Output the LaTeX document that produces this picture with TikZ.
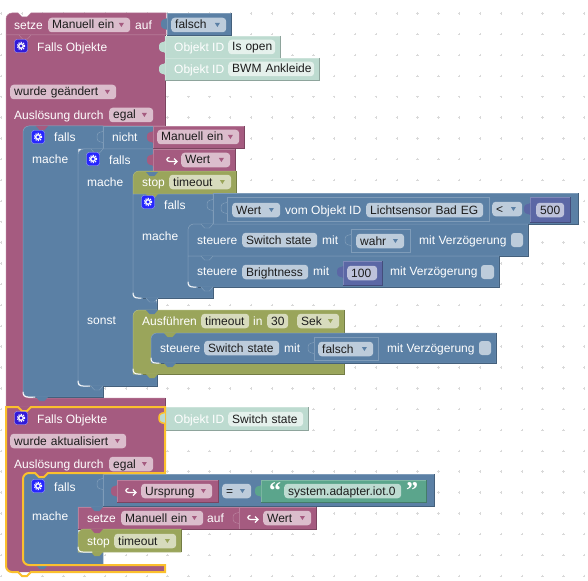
\documentclass[tikz,border=0pt]{standalone}
\usepackage{fontspec}
\setmainfont{Liberation Sans}
\newfontfamily\quotefont{Liberation Serif}
\definecolor{blockpink}{HTML}{A55B80}
\definecolor{blockblue}{HTML}{5B80A5}
\definecolor{blockolive}{HTML}{9AA55B}
\definecolor{blockgreen}{HTML}{5BA58C}
\definecolor{blocknum}{HTML}{5B67A5}
\definecolor{blockmint}{HTML}{BDDBD0}
\definecolor{selyellow}{HTML}{FBC02D}
\definecolor{fieldtext}{HTML}{1C1C1C}
\tikzset{
  blk/.style={fill=#1,draw=#1!78!white,line width=.5pt},
  edge/.style={draw=#1!75!black,line width=.7pt},
  rc/.style={rounded corners=6pt},
  lbl/.style={anchor=mid west,inner sep=0pt,yshift=-1.5pt,text=white,font=\fontsize{12}{14}\selectfont},
  fld/.style={anchor=west,rounded corners=3.5pt,inner xsep=4pt,inner ysep=1.75pt,text height=9.5pt,
    text depth=1.5pt,text=fieldtext,align=left,font=\fontsize{12}{14}\selectfont},
  jack/.pic={\path[pic actions] (0,1) .. controls (0,3) and (-6,0) .. (-6,7)
    .. controls (-6,14) and (0,11) .. (0,13);},
  notch/.pic={\path[pic actions] (13,0) -- (16.5,4) -- (21.5,4) -- (25,0);},
  cog/.pic={\path[pic actions,rounded corners=2.5pt] (-6.5,-6.5) rectangle (6.5,6.5);
    \draw[white,line width=1.3pt] (0,0) circle (2.3pt);
    \draw[white,line width=1.1pt,dash pattern=on 1.2pt off 1.2pt] (0,0) circle (3.7pt);},
  hook/.pic={\draw[white,line width=1.2pt] (-2.5,-2.5) .. controls (-6,-2.5) and (-6,1.5) .. (-2.5,1.5) -- (5,1.5);
    \draw[white,line width=1.2pt] (2,-1.5) -- (5,1.5) -- (2,4.5);}
}
% plain rectangular block, dark edge on the right and underneath
\newcommand{\rblk}[5]{\draw[blk=#5] (#1,#2) rectangle (#3,#4);
  \draw[edge=#5] (#3,#2) -- (#3,#4) -- (#1,#4);}
\newcommand{\lab}[4]{\node[lbl] (#1) at (#2,#3) {#4};}
% dropdown field: name, x1, x2, y, colour, text
\newcommand{\dd}[6]{\pgfmathsetmacro{\fw}{#3-#2-8}
  \node[fld,fill=#5!40!white,text width=\fw pt] (#1) at (#2,#4) {\mbox{#6}};
  \fill[#5] ([shift={(-11.5,-2)}]#1.east) -- ++(5,0) -- ++(-2.5,4) -- cycle;}
% field without the dropdown
\newcommand{\fd}[6]{\pgfmathsetmacro{\fw}{#3-#2-8}
  \node[fld,fill=#5,text width=\fw pt] (#1) at (#2,#4) {\mbox{#6}};}
\begin{document}
\begin{tikzpicture}[x=1pt,y=-1pt]
\useasboundingbox (0,0) rectangle (588,580);
\fill[white] (0,0) rectangle (588,580);
% workspace grid
\foreach \i in {0,...,28} \foreach \j in {0,...,27}
  \draw[gray!30,line width=.5pt] ({1+20.83*\i-1.2},{13.4+20.83*\j}) -- ++(2.4,0) ({1+20.83*\i},{13.4+20.83*\j-1.2}) -- ++(0,2.4);

% first trigger
\draw[blk=blockpink] (6,35) [rc] -- (6,13) [sharp corners] -- (18,13) -- (22,17) -- (27,17) -- (31,13) -- (166,13) -- (166,35) -- cycle;
\draw[blk=blockpink] (6,35) -- (165,35) -- (165,126) [rc] -- (23,126) -- (23,398) [sharp corners] -- (165,398) -- (165,407) -- (6,407) -- cycle;
\draw[edge=blockpink] (165,35) -- (165,126) (165,398) -- (165,407);
\rblk{167}{13}{231}{35}{blockblue}
\path pic[fill=blockblue] at (167,17) {jack};
\rblk{165}{36}{280}{58}{blockmint}
\rblk{165}{58}{319}{80}{blockmint}
\path pic[fill=blockmint] at (165,40) {jack} pic[fill=blockmint] at (165,62) {jack};
\path pic[draw=blockpink!72!white,fill=blockpink] at (6,35) {notch};

% outer falls
\draw[blk=blockblue] (78,385) -- (103,385) -- (103,397) [rc] -- (23,397) -- (23,126) [sharp corners] -- (103,126) -- (103,149) -- (78,149) -- cycle;
\draw[edge=blockblue] (103,385) -- (103,397) -- (33,397);
\rblk{103}{126}{153}{149}{blockblue}
\path pic[draw=blockblue!72!white,fill=blockblue] at (103,130) {jack};
\rblk{153}{126}{244}{148}{blockpink}
\path pic[fill=blockpink] at (153,130) {jack};
\path pic[fill=blockpink] at (23,126) {notch};

% inner falls with sonst
\draw[blk=blockblue] (133,374) -- (157,374) -- (157,386) [rc] -- (78,386) -- (78,149) [sharp corners] -- (153,149) -- (153,172) [rc] -- (133,172) -- (133,298) -- (157,298) [sharp corners] -- (157,310) [rc] -- (133,310) -- cycle;
\draw[edge=blockblue] (157,298) -- (157,310) (157,374) -- (157,386) -- (88,386);
\rblk{153}{149}{235}{171}{blockpink}
\path pic[fill=blockpink] at (153,153) {jack};
\path pic[draw=blockblue!72!white,fill=blockblue] at (78,149) {notch};

% stop
\draw[blk=blockolive] (133,194) [rc] -- (133,171) [sharp corners] -- (236,171) -- (236,194) -- cycle;
\draw[edge=blockolive] (236,171) -- (236,194);
\path pic[fill=blockblue] at (133,172) {notch};

% falls with the sensor
\draw[blk=blockblue] (133,194) -- (213,194) -- (213,224) [rc] -- (188,224) -- (188,287) [sharp corners] -- (213,287) -- (213,298) [rc] -- (133,298) [sharp corners] -- cycle;
\draw[edge=blockblue] (213,287) -- (213,298) -- (143,298);
\rblk{213}{193}{578}{224}{blockblue}
\path pic[draw=blockblue!72!white,fill=blockblue] at (213,198) {jack};
\draw[blk=blockblue] (227,197) rectangle (489,221);
\path pic[draw=blockblue!72!white,fill=blockblue] at (227,201) {jack};
\rblk{530}{197}{570}{222}{blocknum}
\path pic[fill=blocknum] at (530,202) {jack};
\path pic[fill=blockolive] at (133,194) {notch};

% steuere
\draw[blk=blockblue] (188,256) [rc] -- (188,224) [sharp corners] -- (528,224) -- (528,256) -- cycle;
\draw[edge=blockblue] (528,224) -- (528,256) -- (188,256);
\draw[blk=blockblue] (188,256) -- (499,256) -- (499,287) [rc] -- (188,287) [sharp corners] -- cycle;
\draw[edge=blockblue] (499,256) -- (499,287) -- (198,287);
\draw[blk=blockblue] (351,229) rectangle (410,252);
\path pic[draw=blockblue!72!white,fill=blockblue] at (351,233) {jack};
\rblk{343}{261}{382}{285}{blocknum}
\path pic[fill=blocknum] at (343,265) {jack};
\path pic[draw=blockblue!72!white,fill=blockblue] at (188,224) {notch}
  pic[draw=blockblue!72!white,fill=blockblue] at (188,256) {notch}
  pic[draw=blockblue!72!white,fill=blockblue] at (188,287) {notch}
  pic[draw=blockblue!72!white,fill=blockblue] at (133,298) {notch};

% timeout block
\draw[blk=blockolive] (133,374) [rc] -- (133,310) [sharp corners] -- (344,310) -- (344,333) [rc] -- (151,333) -- (151,363) [sharp corners] -- (344,363) -- (344,374) -- cycle;
\draw[edge=blockolive] (344,310) -- (344,333) (344,363) -- (344,374) -- (143,374);
\path pic[fill=blockblue] at (133,310) {notch};
\draw[blk=blockblue] (151,363) [rc] -- (151,333) [sharp corners] -- (496,333) -- (496,363) -- cycle;
\draw[edge=blockblue] (496,333) -- (496,363) -- (161,363);
\draw[blk=blockblue] (314,337) rectangle (378,360);
\path pic[draw=blockblue!72!white,fill=blockblue] at (314,341) {jack};
\path pic[fill=blockolive] at (151,333) {notch};
\path pic[fill=blockblue] at (151,363) {notch}
  pic[fill=blockolive] at (133,374) {notch}
  pic[draw=blockblue!72!white,fill=blockblue] at (78,386) {notch}
  pic[fill=blockblue] at (23,397) {notch};

% second trigger
\draw[fill=blockpink,draw=none] (6,407) -- (165,407) -- (165,473) [rc] -- (23,473) -- (23,565) [sharp corners] -- (165,565) -- (165,572) [rc] -- (6,572) [sharp corners] -- cycle;
\rblk{165}{407}{308}{430}{blockmint}
\draw[blk=blockblue] (78,552) -- (103,552) -- (103,565) [rc] -- (23,565) -- (23,473) [sharp corners] -- (103,473) -- (103,507) -- (78,507) -- cycle;
\rblk{103}{474}{434}{506}{blockblue}
\path pic[draw=blockblue!72!white,fill=blockblue] at (103,477) {jack};
\rblk{117}{480}{218}{502}{blockpink}
\path pic[fill=blockpink] at (117,484) {jack};
\rblk{261}{480}{426}{502}{blockgreen}
\path pic[fill=blockgreen] at (261,484) {jack};
\rblk{78}{507}{239}{529}{blockpink}
\rblk{239}{507}{316}{529}{blockpink}
\path pic[draw=blockpink!72!white,fill=blockpink] at (239,511) {jack};
\draw[blk=blockolive] (78,552) [rc] -- (78,529) [sharp corners] -- (181,529) -- (181,552) -- cycle;
\draw[edge=blockolive] (181,529) -- (181,552);
\path pic[fill=blockblue] at (78,507) {notch}
  pic[fill=blockpink] at (78,529) {notch}
  pic[fill=blockolive] at (78,552) {notch}
  pic[fill=blockpink] at (23,473) {notch}
  pic[fill=blockblue] at (23,565) {notch};

% white lips in the mouths
\foreach \mx/\my/\ml in {23/397/12,78/386/12,133/374/8,151/363/8,188/287/8,133/298/8,78/552/14}
  \draw[white,line width=1pt,line cap=round] (\mx,\my-5) .. controls (\mx,\my-1.5) and (\mx+1.5,\my) .. (\mx+5,\my) -- (\mx+\ml,\my);

% selection outline
\draw[selyellow,line width=2pt] (6,407) -- (18,407) -- (22,411) -- (27,411) -- (31,407) -- (165,407) -- (165,473) -- (48,473) -- (44,477) -- (39,477) -- (35,473) [rc] -- (23,473) -- (23,565) [sharp corners] -- (165,565) -- (165,572) -- (31,572) -- (27,576) -- (22,576) -- (18,572) [rc] -- (6,572) [sharp corners] -- cycle;
\path pic[draw=selyellow,line width=1.5pt,fill=blockmint] at (165,411) {jack};

% gears
\path pic[fill=blue!70!blockpink,draw=blue!35!white] at (21,46) {cog} pic[fill=blue!85,draw=blue!35!white] at (38,137) {cog}
  pic[fill=blue!85,draw=blue!35!white] at (93,159) {cog} pic[fill=blue!85,draw=blue!35!white] at (148,202) {cog}
  pic[fill=blue!70!blockpink,draw=blue!35!white] at (21,418) {cog} pic[fill=blue!85,draw=blue!35!white] at (38,486) {cog};

% hooks
\path pic at (172,160) {hook} pic at (131,491) {hook} pic at (253,518) {hook};

% texts, first trigger
\lab{setzeA}{14}{25}{setze}
\dd{manuellA}{48}{130}{25}{blockpink}{Manuell ein}
\lab{aufA}{135}{25}{auf}
\dd{falschA}{171}{226}{25}{blockblue}{falsch}
\lab{fallsObjA}{37}{47}{Falls Objekte}
\lab{objidA}{174}{47}{Objekt ID}
\fd{isopen}{228}{275}{47}{blockmint!40!white}{Is open}
\lab{objidB}{174}{69}{Objekt ID}
\fd{bwm}{228}{314}{69}{blockmint!40!white}{BWM Ankleide}
\dd{geaendert}{10}{116}{92}{blockpink}{wurde geändert}
\lab{ausloesA}{14}{115}{Auslösung durch}
\dd{egalA}{109}{153}{115}{blockpink}{egal}
\lab{fallsA}{54}{137}{falls}
\lab{nicht}{112}{137}{nicht}
\dd{manuellB}{157}{239}{137}{blockpink}{Manuell ein}
\lab{macheA}{32}{159}{mache}
\lab{fallsB}{109}{160}{falls}
\dd{wertA}{181}{230}{160}{blockpink}{Wert}
\lab{macheB}{87}{182}{mache}
\lab{stopA}{142}{182}{stop}
\dd{timeoutA}{169}{231}{182}{blockolive}{timeout}
\lab{fallsC}{164}{205}{falls}
\dd{wertB}{232}{280}{210}{blockblue}{Wert}
\lab{vomObj}{285}{210}{vom Objekt ID}
\fd{licht}{366}{483}{210}{blockblue!40!white}{Lichtsensor Bad EG}
\dd{kleiner}{492}{522}{209}{blockblue}{<}
\fd{num500}{536}{564}{210}{blocknum!40!white}{500}
\lab{macheC}{142}{236}{mache}
\lab{steuA}{197}{240}{steuere}
\fd{switchA}{242}{317}{240}{blockblue!40!white}{Switch state}
\lab{mitA}{322}{240}{mit}
\dd{wahr}{356}{404}{241}{blockblue}{wahr}
\lab{verzA}{419}{240}{mit Verzögerung}
\fill[blockblue!40!white,rounded corners=3pt] (511,233) rectangle (523,247);
\lab{steuB}{197}{271}{steuere}
\fd{bright}{242}{308}{272}{blockblue!40!white}{Brightness}
\lab{mitB}{313}{271}{mit}
\fd{num100}{347}{377}{273}{blocknum!40!white}{100}
\lab{verzB}{390}{271}{mit Verzögerung}
\fill[blockblue!40!white,rounded corners=3pt] (481,265) rectangle (494,279);
\lab{sonst}{87}{320}{sonst}
\lab{ausf}{142}{321}{Ausführen}
\fd{timeoutB}{201}{249}{321}{blockolive!40!white}{timeout}
\lab{inA}{253}{321}{in}
\fd{num30}{267}{288}{321}{blockolive!40!white}{30}
\dd{sek}{297}{339}{321}{blockolive}{Sek}
\lab{steuC}{160}{348}{steuere}
\fd{switchB}{204}{279}{348}{blockblue!40!white}{Switch state}
\lab{mitC}{284}{348}{mit}
\dd{falschB}{318}{373}{349}{blockblue}{falsch}
\lab{verzC}{387}{348}{mit Verzögerung}
\fill[blockblue!40!white,rounded corners=3pt] (479,341) rectangle (491,355);

% texts, second trigger
\lab{fallsObjB}{37}{419}{Falls Objekte}
\lab{objidC}{174}{419}{Objekt ID}
\fd{switchC}{228}{303}{419}{blockmint!40!white}{Switch state}
\dd{aktual}{10}{126}{441}{blockpink}{wurde aktualisiert}
\lab{ausloesB}{14}{464}{Auslösung durch}
\dd{egalB}{109}{153}{464}{blockpink}{egal}
\lab{fallsD}{54}{487}{falls}
\dd{urspr}{141}{212}{491}{blockpink}{Ursprung}
\dd{gleich}{222}{251}{491}{blockblue}{=}
\fd{sysad}{284}{401}{491}{blockgreen!40!white}{system.adapter.iot.0}
\node[lbl,font=\quotefont\fontsize{24}{24}\bfseries\selectfont] (quoteA) at (269,494) {“};
\node[lbl,font=\quotefont\fontsize{24}{24}\bfseries\selectfont] (quoteB) at (406,494) {”};
\lab{macheD}{32}{516}{mache}
\lab{setzeB}{87}{518}{setze}
\dd{manuellC}{121}{203}{518}{blockpink}{Manuell ein}
\lab{aufB}{207}{518}{auf}
\dd{wertC}{263}{311}{518}{blockpink}{Wert}
\lab{stopB}{87}{541}{stop}
\dd{timeoutC}{114}{176}{541}{blockolive}{timeout}
\end{tikzpicture}
\end{document}
